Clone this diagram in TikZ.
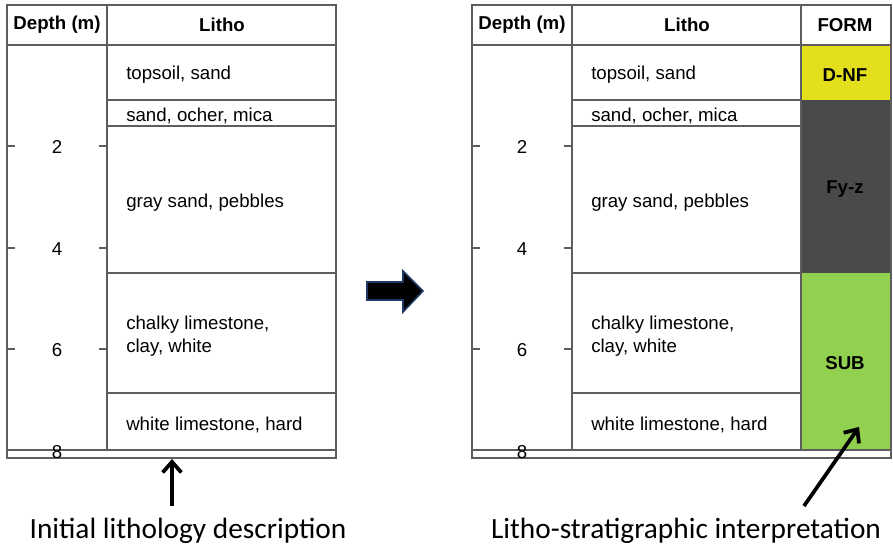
\documentclass[tikz,border=0pt]{standalone}
\usepackage{fontspec}
\setmainfont{Liberation Sans}
\newfontfamily\capfont{Carlito}
\usetikzlibrary{arrows.meta,positioning}
\definecolor{tablegray}{HTML}{5E5E5E}
\definecolor{formyellow}{HTML}{E4DF1C}
\definecolor{formdark}{HTML}{4A4A4A}
\definecolor{formgreen}{HTML}{92D050}
\definecolor{shiftblue}{HTML}{1F3864}
\tikzset{
	tabline/.style={draw=tablegray,line width=1.1pt},
	head/.style={font=\fontsize{14}{16}\selectfont\bfseries,inner sep=0pt},
	litho/.style={font=\fontsize{14}{17.5}\selectfont,anchor=west,align=left,inner sep=0pt},
	depth/.style={font=\fontsize{14}{16}\selectfont,inner sep=0pt},
	form/.style={font=\fontsize{14}{16}\selectfont\bfseries,inner sep=0pt},
	caption/.style={font=\capfont\fontsize{22}{26}\selectfont,inner sep=0pt},
	pointer/.style={-{Straight Barb[length=8pt,width=14pt]},line width=2.8pt}
}

\begin{document}
\begin{tikzpicture}[x=0.75pt,y=-0.75pt]
	\useasboundingbox (0,0) rectangle (893,548);
	% formation column
	\fill[formyellow] (800,45) rectangle (891,100);
	\fill[formdark] (800,100) rectangle (891,273);
	\fill[formgreen] (800,273) rectangle (891,450);
	\node[form] (dnf) at (845,75) {D-NF};
	\node[form] (fyz) at (845,189) {Fy-z};
	\node[form] (sub) at (845,363) {SUB};
	\node[head] (formhead) at (845,25) {FORM};

	% the two logs
	\foreach \ox/\rx/\t in {0/336/L,465/891/R}{
		\draw[tabline] (7+\ox,5) rectangle (\rx,458);
		\draw[tabline] (7+\ox,45) -- (\rx,45);
		\draw[tabline] (7+\ox,450) -- (\rx,450);
		\draw[tabline] (107+\ox,5) -- (107+\ox,450);
		\draw[tabline] (336+\ox,5) -- (336+\ox,450);
		\foreach \y in {100,126,273,393}
			\draw[tabline] (107+\ox,\y) -- (336+\ox,\y);
		\node[head] (depthhead\t) at (57+\ox,25) {Depth (m)};
		\node[head] (lithohead\t) at (222+\ox,25) {Litho};
		\foreach \y/\d in {146/2,248/4,349/6}{
			\draw[tabline] (7+\ox,\y) -- (15+\ox,\y);
			\draw[tabline] (99+\ox,\y) -- (107+\ox,\y);
			\node[depth] (d\d\t) at (57+\ox,\y+1) {\d};
		}
		\node[depth] (d8\t) at (57+\ox,452) {8};
		\node[litho] (topsoil\t) at (126+\ox,75) {topsoil, sand};
		\node[litho] (ocher\t) at (126+\ox,116) {sand, ocher, mica};
		\node[litho] (gray\t) at (126+\ox,203) {gray sand, pebbles};
		\node[litho] (chalky\t) at (126+\ox,336) {chalky limestone,\\clay, white};
		\node[litho] (white\t) at (126+\ox,425) {white limestone, hard};
	}

	% shift arrow
	\draw[fill=black,draw=shiftblue,line width=1.2pt] (367,282) -- (403,282) -- (403,271)
		-- (423,291) -- (403,312) -- (403,300) -- (367,300) -- cycle;

	% captions
	\node[caption] (initcap) at (188,531) {Initial lithology description};
	\node[caption] (interpcap) at (686,531) {Litho-stratigraphic interpretation};
	\coordinate (initfoot) at (172,459);
	\coordinate (inittail) at (172,506);
	\coordinate (subfoot) at (859,427);
	\coordinate (subtail) at (804,506);
	\draw[pointer] (inittail) -- (initfoot);
	\draw[pointer] (subtail) -- (subfoot);
\end{tikzpicture}
\end{document}
